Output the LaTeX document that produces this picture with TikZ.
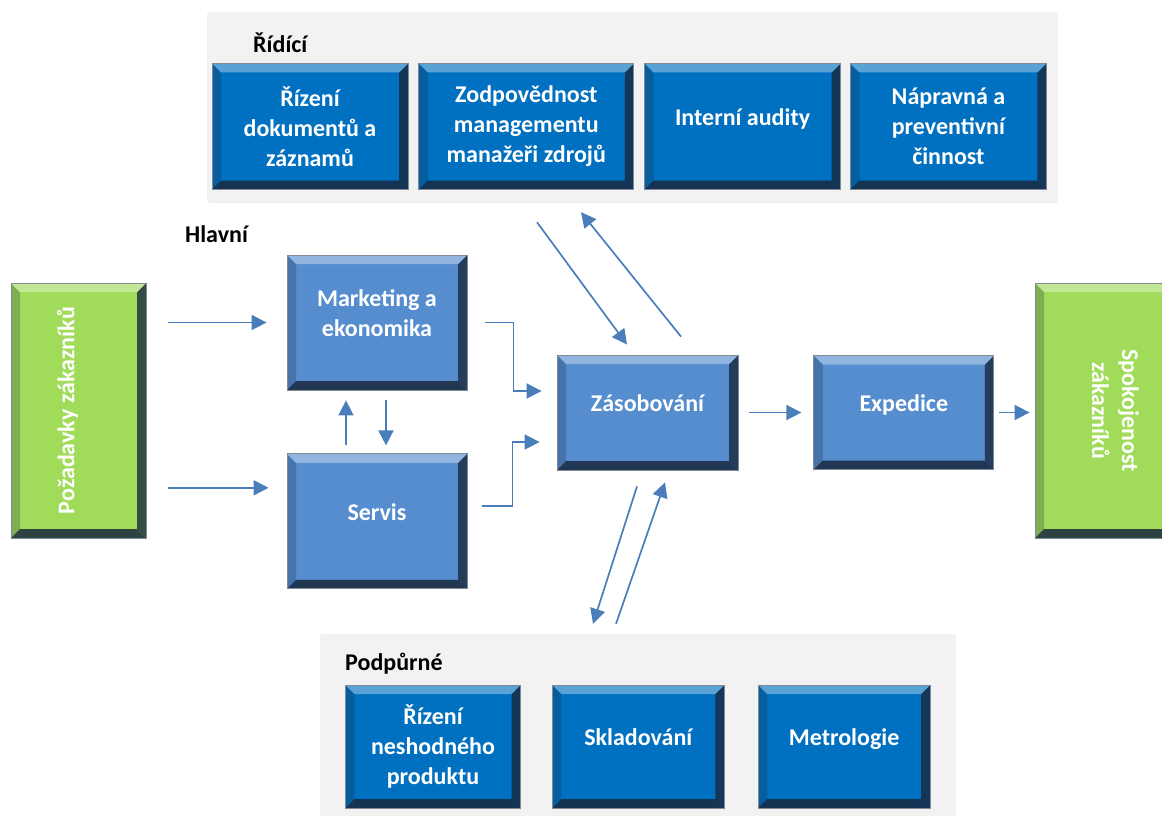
\documentclass[tikz,border=0pt]{standalone}
\usepackage{fontspec}
\setmainfont{Carlito}
\usepackage{tikz}
\usetikzlibrary{arrows.meta,positioning,calc}
\definecolor{boxblue}{RGB}{0,112,192}
\definecolor{midblue}{RGB}{85,141,206}
\definecolor{custgreen}{RGB}{160,219,90}
\definecolor{shadow}{RGB}{25,40,62}
\definecolor{linkblue}{RGB}{74,126,187}
\definecolor{panel}{RGB}{242,242,242}

\begin{document}
\begin{tikzpicture}[x=1pt, y=-1pt,
    bevel/.style={fill=#1, draw=shadow!55, line width=0.8pt,
        path picture={
            \coordinate (pnw) at (path picture bounding box.north west);
            \coordinate (pne) at (path picture bounding box.north east);
            \coordinate (psw) at (path picture bounding box.south west);
            \coordinate (pse) at (path picture bounding box.south east);
            \fill[#1!75!shadow] (pnw) -- (psw) -- ([shift={(9pt,9pt)}]psw) -- ([shift={(9pt,-9pt)}]pnw) -- cycle;
            \fill[#1!20!shadow] (pne) -- (pse) -- ([shift={(-9pt,9pt)}]pse) -- ([shift={(-9pt,-9pt)}]pne) -- cycle;
            \fill[#1!15!shadow] (psw) -- (pse) -- ([shift={(-9pt,9pt)}]pse) -- ([shift={(9pt,9pt)}]psw) -- cycle;
            \fill[#1!65!white] (pnw) -- (pne) -- ([shift={(-9pt,-9pt)}]pne) -- ([shift={(9pt,-9pt)}]pnw) -- cycle;
        }},
    boxtext/.style={text=white, align=center, inner sep=2pt,
        font=\fontsize{24}{30}\selectfont\bfseries},
    topbox/.style={bevel=boxblue, boxtext, minimum width=196pt, minimum height=126pt},
    midbox/.style={bevel=midblue, boxtext, minimum width=180pt, minimum height=135pt},
    custbox/.style={bevel=custgreen, minimum width=135pt, minimum height=255pt},
    lift/.style={text depth=18pt},
    group/.style={fill=panel, rounded corners=3pt, inner sep=0pt},
    grouplabel/.style={inner sep=0pt, anchor=base west,
        font=\fontsize{24}{30}\selectfont\bfseries},
    arrow/.style={-{Triangle[length=15pt,width=15pt]}, line width=1.7pt, draw=linkblue}
]
\useasboundingbox (0,0) rectangle (1162,816);

% Ridici procesy
\node[group, minimum width=851pt, minimum height=191pt] (ctrl) at (632.5,107.5) {};
\node[grouplabel] (ctrllabel) at (253,53) {Řídící};
\node[topbox] (docs) at (310,126.5) {Řízení\\dokumentů a\\záznamů};
\node[topbox, right=10pt of docs, minimum width=215pt] (resp) {Zodpovědnost\\managementu\\manažeři zdrojů};
\node[topbox, lift, right=10pt of resp] (audit) {Interní audity};
\node[topbox, right=9pt of audit] (fix) {Nápravná a\\preventivní\\činnost};

% Hlavni procesy
\node[grouplabel] (mainlabel) at (185,242) {Hlavní};
\node[custbox] (req) at (78.5,410.5) {};
\node[boxtext, rotate=90] (reqtext) at ([xshift=-11pt]req.center) {Požadavky zákazníků};
\node[midbox, lift] (mark) at (377,322.5) {Marketing a\\ekonomika};
\node[midbox, lift, below=63pt of mark] (serv) {Servis};
\node[midbox, lift, minimum width=181pt, minimum height=115pt] (zas) at (647.5,412.5) {Zásobování};
\node[midbox, lift, right=75pt of zas, minimum height=114pt] (exp) {Expedice};
\node[custbox, minimum width=155pt] (spok) at (1112.5,410.5) {};
\node[boxtext, rotate=-90] (spoktext) at ([xshift=3pt]spok.center) {Spokojenost\\zákazníků};

\coordinate (servin) at ([yshift=33.5pt]serv.west);
\draw[arrow, shorten <=22pt, shorten >=20pt] (req.east |- mark.west) -- (mark.west);
\draw[arrow, shorten <=22pt, shorten >=18pt] (req.east |- servin) -- (servin);
\draw[arrow] ([shift={(-31pt,8pt)}]serv.north) -- ([shift={(-31pt,-10pt)}]mark.south);
\draw[arrow] ([shift={(9pt,-10pt)}]mark.south) -- ([shift={(9pt,8pt)}]serv.north);
\draw[arrow, shorten <=18pt, shorten >=15pt] (mark.east) -- ++(46,0) |- ([yshift=21.5pt]zas.west);
\draw[arrow, shorten <=15pt, shorten >=17pt] ([yshift=15.5pt]serv.east) -- ++(45,0) |- ([yshift=-29.5pt]zas.west);
\draw[arrow, shorten <=11pt, shorten >=12pt] (zas.east) -- (exp.west);
\draw[arrow, shorten <=5pt, shorten >=5pt] (exp.east) -- (exp.east -| spok.west);

% Podpurne procesy
\node[group, minimum width=636pt, minimum height=200pt] (sup) at (638,734) {};
\node[grouplabel] (suplabel) at (345,670) {Podpůrné};
\node[topbox, minimum width=175pt, minimum height=123pt] (nonconf) at (433,746.5) {Řízení\\neshodného\\produktu};
\node[topbox, lift, right=31pt of nonconf, minimum width=172pt, minimum height=123pt] (store) {Skladování};
\node[topbox, lift, right=33pt of store, minimum width=172pt, minimum height=123pt] (metro) {Metrologie};

% Vazby na ridici a podpurne procesy
\draw[arrow] ([shift={(-95.5pt,-19pt)}]ctrl.south) -- ([shift={(-20.5pt,10pt)}]zas.north);
\draw[arrow] ([shift={(33.5pt,18pt)}]zas.north) -- ([shift={(-51.5pt,-9pt)}]ctrl.south);
\draw[arrow] ([shift={(-10.5pt,-16pt)}]zas.south) -- ([shift={(-45pt,10pt)}]sup.north);
\draw[arrow] ([shift={(-22pt,10pt)}]sup.north) -- ([shift={(17.5pt,-12pt)}]zas.south);

\end{tikzpicture}
\end{document}
